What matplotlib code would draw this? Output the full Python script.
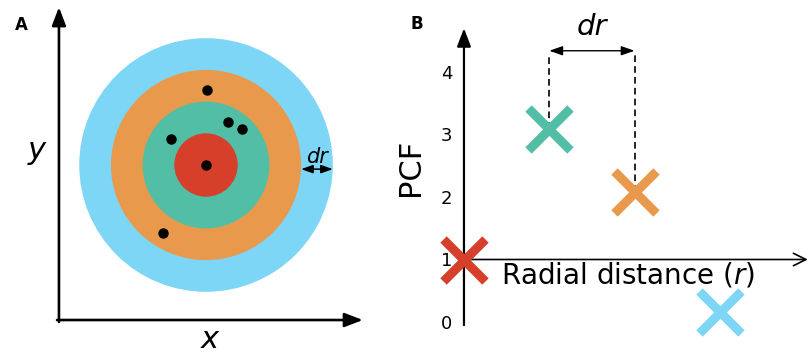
import matplotlib
matplotlib.use("Agg")
import matplotlib.pyplot as plt
from matplotlib.patches import Circle

plt.rcParams['font.family'] = ['DejaVu Sans']
plt.rcParams['mathtext.fontset'] = 'dejavusans'

# panel A: rings (radius in units of dr) and points
ring_radii = [4, 3, 2, 1]
ring_colors = ['#7dd6f6', '#e8994b', '#52bea6', '#d63f2a']
dots_x = [0.03, 0.69, 1.14, -1.10, 0.0, -1.36]
dots_y = [2.37, 1.36, 1.14, 0.82, 0.0, -2.15]

# panel B: PCF per ring
r_vals = [0, 1, 2, 3]
pcf_vals = [1.0, 3.09, 2.08, 0.16]
pcf_colors = ['#d63f2a', '#52bea6', '#e8994b', '#7dd6f6']
pcf_ticks = [0, 1, 2, 3, 4]

fig = plt.figure(figsize=(8.08, 3.56), dpi=100)

def arrow(ax, start, end, style, lw, scale=10):
    ax.annotate('', xy=end, xytext=start, annotation_clip=False,
                arrowprops=dict(arrowstyle=style, lw=lw, color='black',
                                mutation_scale=scale, shrinkA=0, shrinkB=0))

# ---------------- panel A ----------------
axA = fig.add_axes([0, 0, 0.5, 1])
axA.set_xlim(-6.50, 6.246)
axA.set_ylim(-6.025, 5.205)
axA.axis('off')

for rad, col in zip(ring_radii, ring_colors):
    axA.add_patch(Circle((0, 0), rad, color=col, lw=0))
axA.plot(dots_x, dots_y, 'o', color='black', ms=6.5)

head = '-|>,head_length=1.1,head_width=0.42'
arrow(axA, (-4.64, -4.95), (-4.64, 4.98), head, 1.9)
arrow(axA, (-4.70, -4.89), (4.95, -4.89), head, 1.9)
arrow(axA, (3.0, -0.13), (4.0, -0.13),
      '<|-|>,head_length=0.7,head_width=0.25', 1.1)
axA.text(3.5, 0.06, 'dr', fontsize=15, style='italic', ha='center', va='baseline')
axA.text(-5.33, 0.47, 'y', fontsize=22, style='italic', ha='center', va='center')
axA.text(0.13, -5.52, 'x', fontsize=22, style='italic', ha='center', va='center')

# ---------------- panel B ----------------
axB = fig.add_axes([0.5, 0, 0.5, 1])
axB.set_xlim(-0.703, 4.033)
axB.set_ylim(-0.544, 5.152)
for s in axB.spines.values():
    s.set_visible(False)
axB.spines['left'].set_position(('data', 0))
axB.set_xticks([])
axB.set_yticks(pcf_ticks)
axB.tick_params(axis='y', length=0, pad=8.5, labelsize=13)
axB.patch.set_alpha(0)

arrow(axB, (0, -0.05), (0, 4.70), head, 1.6)
arrow(axB, (0, 1.0), (4.03, 1.0), '->,head_length=0.9,head_width=0.45', 1.2)

for x, y, c in zip(r_vals, pcf_vals, pcf_colors):
    axB.plot(x, y, marker='x', color=c, ms=30, mew=6.5, zorder=5)

axB.plot([r_vals[1], r_vals[1]], [pcf_vals[1], 4.27], color='black', lw=1.2,
         ls=(0, (4, 2.5)))
axB.plot([r_vals[2], r_vals[2]], [pcf_vals[2], 4.27], color='black', lw=1.2,
         ls=(0, (4, 2.5)))
arrow(axB, (r_vals[1], 4.34), (r_vals[2], 4.34),
      '<|-|>,head_length=0.8,head_width=0.28', 1.0)
axB.text(1.5, 4.59, 'dr', fontsize=21, style='italic', ha='center', va='baseline')
axB.text(0.43, 0.62, 'Radial distance ($r$)', fontsize=20, ha='left', va='baseline')
axB.text(-0.621, 2.48, 'PCF', fontsize=22, rotation=90, ha='center', va='center')

fig.text(21 / 808, 1 - 25 / 356, 'A', fontsize=12, fontweight='bold',
         ha='center', va='center')
fig.text(417 / 808, 1 - 24 / 356, 'B', fontsize=12, fontweight='bold',
         ha='center', va='center')

fig.savefig('out.png', dpi=100)
